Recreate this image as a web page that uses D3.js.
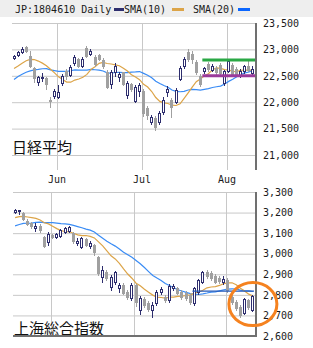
<!DOCTYPE html>
<html>
<head>
<meta charset="utf-8">
<script src="https://cdnjs.cloudflare.com/ajax/libs/d3/7.8.5/d3.min.js"></script>
<style>
  body { margin: 0; background: #fff; }
  text { font-family: 'DejaVu Sans Mono', monospace; font-size: 10px; fill: #1a1a1a; }
  text.title { font-family: 'Noto Sans CJK JP', sans-serif; font-size: 15px; fill: #111; }
</style>
</head>
<body>
<svg id="chart" width="313" height="348"></svg>
<script>
// daily candles, [open, high, low, close]
const nikkeiOhlc = [
  [22832, 22889, 22813, 22870], [22889, 22966, 22870, 22947], [22947, 23042, 22928, 23004],
  [23042, 23061, 22960, 22966], [22870, 22966, 22660, 22680], [22641, 22660, 22374, 22451],
  [22374, 22489, 22317, 22470], [22460, 22546, 22393, 22475], [22451, 22470, 22241, 22336],
  [22050, 22107, 21916, 22031], [22126, 22241, 22088, 22203], [22107, 22317, 22088, 22184],
  [22355, 22527, 22317, 22489], [22584, 22622, 22432, 22489], [22508, 22699, 22489, 22660],
  [22737, 22889, 22699, 22851], [22813, 22832, 22675, 22680], [22680, 22851, 22660, 22813],
  [23023, 23061, 22851, 22870], [22909, 23004, 22889, 22966], [22851, 22889, 22680, 22718],
  [22889, 22909, 22794, 22813], [22794, 22832, 22641, 22680], [22565, 22603, 22260, 22279],
  [22336, 22603, 22260, 22565], [22565, 22737, 22489, 22680], [22470, 22565, 22393, 22527],
  [22565, 22570, 22317, 22336], [22145, 22393, 22088, 22355], [22336, 22355, 22203, 22241],
  [22031, 22317, 22012, 22279], [22203, 22355, 22126, 22317], [22203, 22241, 21745, 21802],
  [21897, 21935, 21687, 21764], [21630, 21764, 21592, 21726], [21707, 21745, 21478, 21535],
  [21630, 21840, 21592, 21802], [21821, 22107, 21783, 22050], [22184, 22298, 22126, 22241],
  [22050, 22088, 21726, 21916], [22012, 22260, 21993, 22222], [22432, 22680, 22412, 22641],
  [22680, 22851, 22641, 22813], [22947, 23004, 22775, 22813], [22909, 22966, 22737, 22813],
  [22756, 22794, 22527, 22565], [22489, 22527, 22298, 22336], [22584, 22660, 22546, 22641],
  [22718, 22756, 22584, 22622], [22603, 22718, 22584, 22680], [22641, 22680, 22527, 22565],
  [22699, 22737, 22527, 22546], [22355, 22603, 22317, 22584], [22584, 22813, 22565, 22775],
  [22699, 22737, 22508, 22527], [22622, 22660, 22508, 22527], [22508, 22622, 22470, 22584],
  [22584, 22699, 22546, 22680], [22680, 22813, 22584, 22603], [22546, 22680, 22508, 22622]
]
// closes before the first visible day, needed for the moving averages
const nikkeiPrev = [21847, 22158, 22191, 22162, 22088, 22278, 22215, 22319, 22467, 22508,
  22473, 22467, 22509, 22409, 22497, 22758, 22866, 22818, 22717]

const shanghaiOhlc = [
  [3203, 3217, 3198, 3212], [3208, 3213, 3193, 3212], [3198, 3203, 3164, 3169],
  [3159, 3169, 3140, 3144], [3149, 3154, 3125, 3135], [3125, 3149, 3110, 3135],
  [3135, 3144, 3106, 3115], [3081, 3086, 3035, 3037], [3057, 3106, 3042, 3096],
  [3091, 3096, 3076, 3081], [3081, 3101, 3076, 3096], [3086, 3120, 3081, 3115],
  [3106, 3130, 3101, 3125], [3110, 3135, 3106, 3130], [3101, 3106, 3052, 3062],
  [3052, 3076, 3042, 3062], [3033, 3081, 3028, 3076], [3071, 3076, 3037, 3042],
  [3037, 3062, 3028, 3052], [3042, 3047, 2994, 3008], [2984, 2989, 2896, 2906],
  [2887, 2940, 2862, 2921], [2911, 2921, 2872, 2882], [2838, 2896, 2824, 2887],
  [2862, 2916, 2853, 2911], [2833, 2858, 2814, 2848], [2848, 2858, 2804, 2809],
  [2814, 2824, 2780, 2789], [2785, 2858, 2775, 2848], [2848, 2853, 2746, 2765],
  [2726, 2794, 2707, 2785], [2780, 2789, 2741, 2751], [2760, 2770, 2721, 2731],
  [2726, 2765, 2692, 2751], [2760, 2824, 2751, 2814], [2814, 2838, 2804, 2828],
  [2789, 2799, 2765, 2775], [2775, 2853, 2765, 2843], [2833, 2853, 2824, 2843],
  [2833, 2838, 2804, 2809], [2814, 2824, 2780, 2789], [2809, 2819, 2775, 2785],
  [2799, 2809, 2755, 2765], [2760, 2838, 2751, 2833], [2814, 2877, 2804, 2872],
  [2862, 2916, 2858, 2911], [2911, 2921, 2882, 2892], [2906, 2916, 2872, 2882],
  [2892, 2901, 2858, 2862], [2882, 2892, 2858, 2867], [2862, 2892, 2853, 2877],
  [2872, 2882, 2814, 2824], [2789, 2804, 2755, 2765], [2765, 2775, 2726, 2736],
  [2741, 2751, 2692, 2702], [2712, 2785, 2707, 2780], [2775, 2780, 2731, 2741],
  [2726, 2799, 2721, 2794]
]
const shanghaiPrev = [3071, 3068, 3128, 3117, 3075, 3082, 3081, 3101, 3091, 3136,
  3161, 3159, 3174, 3163, 3174, 3192, 3170, 3155, 3193]

const monthLabels = ['Jun', 'Jul', 'Aug']
const nikkeiMonthStart = [11, 32, 53]
const shanghaiMonthStart = [9, 29, 51]
const nikkeiTicks = [21000, 21500, 22000, 22500, 23000, 23500]
const shanghaiTicks = [2600, 2700, 2800, 2900, 3000, 3100, 3200, 3300]

// hand drawn levels on the nikkei panel
const resistance = 22800
const support = 22500
const levelFrom = 47
// flat line on the shanghai panel and the circled area
const shanghaiLevel = 2818
const shanghaiLevelFrom = 43
const circleAt = { index: 57, value: 2755 }

const navy = '#2e2e6e'
const gray = '#a0a0a0'
const sma10Color = '#dca448'
const sma20Color = '#3a8cf5'

const svg = d3.select('#chart')

const sma = (data, prev, n) => {
  const closes = prev.concat(data.map(d => d[3]))
  return data.map((d, i) => d3.mean(closes.slice(i + prev.length - n + 1, i + prev.length + 1)))
}

function drawPanel(p) {
  const { data, prev, x, y, ticks, months, bottom, title, titleX, titleY } = p
  const [x0, x1] = x.range()
  const yt = y.range()[1]
  const bw = x.bandwidth()
  const cx = i => Math.round(x(i) + bw / 2 - 1.5)
  const g = svg.append('g')

  g.append('g')
    .attr('transform', `translate(${x0},0)`)
    .call(d3.axisLeft(y).tickValues(ticks).tickSize(-(x1 - x0)).tickFormat(''))
    .call(a => a.select('.domain').remove())
    .selectAll('line').attr('stroke', '#c8c8c8')

  g.selectAll('.vgrid')
    .data(months)
    .enter().append('line')
    .attr('x1', d => Math.round(x(d)) + 0.5)
    .attr('x2', d => Math.round(x(d)) + 0.5)
    .attr('y1', yt)
    .attr('y2', bottom)
    .attr('stroke', '#c8c8c8')

  g.append('text')
    .attr('class', 'title')
    .attr('x', titleX)
    .attr('y', titleY)
    .text(title)

  const line = d3.line().x((d, i) => x(i) + bw / 2).y(d => y(d))
  g.append('path').datum(sma(data, prev, 20))
    .attr('d', line).attr('fill', 'none').attr('stroke', sma20Color).attr('stroke-width', 1.2)
  g.append('path').datum(sma(data, prev, 10))
    .attr('d', line).attr('fill', 'none').attr('stroke', sma10Color).attr('stroke-width', 1.2)

  g.selectAll('.wick')
    .data(data)
    .enter().append('line')
    .attr('x1', (d, i) => cx(i) + 1.5)
    .attr('x2', (d, i) => cx(i) + 1.5)
    .attr('y1', d => Math.round(y(d[1])))
    .attr('y2', d => Math.round(y(d[2])) + 1)
    .attr('stroke', d => d[3] >= d[0] ? navy : gray)

  g.selectAll('.up')
    .data(data.map((d, i) => ({ d, i })).filter(e => e.d[3] >= e.d[0]))
    .enter().append('rect')
    .attr('x', e => cx(e.i) + 0.5)
    .attr('y', e => Math.round(y(e.d[3])) + 0.5)
    .attr('width', 2)
    .attr('height', e => Math.max(1, Math.round(y(e.d[0])) - Math.round(y(e.d[3]))))
    .attr('fill', '#fff')
    .attr('stroke', navy)

  g.selectAll('.down')
    .data(data.map((d, i) => ({ d, i })).filter(e => e.d[3] < e.d[0]))
    .enter().append('rect')
    .attr('x', e => cx(e.i))
    .attr('y', e => Math.round(y(e.d[0])))
    .attr('width', 3)
    .attr('height', e => Math.max(1, Math.round(y(e.d[3])) - Math.round(y(e.d[0])) + 1))
    .attr('fill', gray)

  g.append('line')
    .attr('x1', 256).attr('x2', 256)
    .attr('y1', yt).attr('y2', bottom)
    .attr('stroke', '#707070').attr('stroke-width', 2)

  g.append('g')
    .attr('transform', 'translate(256,0)')
    .call(d3.axisRight(y).tickValues(ticks).tickSize(0).tickPadding(7).tickFormat(d3.format(',')))
    .call(a => a.select('.domain').remove())

  return g
}

// header
svg.append('rect').attr('width', 313).attr('height', 17).attr('fill', '#eeeeee')
svg.append('text').attr('x', 15).attr('y', 13).text('JP:1804610 Daily')
svg.append('rect').attr('x', 114).attr('y', 8).attr('width', 10).attr('height', 3).attr('fill', navy)
svg.append('text').attr('x', 124).attr('y', 13).text('SMA(10)')
svg.append('rect').attr('x', 172).attr('y', 8).attr('width', 12).attr('height', 3).attr('fill', sma10Color)
svg.append('text').attr('x', 193).attr('y', 13).text('SMA(20)')
svg.append('rect').attr('x', 238).attr('y', 8).attr('width', 12).attr('height', 3).attr('fill', '#0a66ff')

const xTop = d3.scaleBand().domain(d3.range(nikkeiOhlc.length)).range([12, 255])
const yTop = d3.scaleLinear().domain([21000, 23500]).range([155, 23])
const topPanel = drawPanel({
  data: nikkeiOhlc, prev: nikkeiPrev, x: xTop, y: yTop, ticks: nikkeiTicks,
  months: nikkeiMonthStart, bottom: 170, title: '日経平均', titleX: 12, titleY: 153
})

topPanel.selectAll('.level')
  .data([[resistance, '#2aa845'], [support, '#9b3b9b']])
  .enter().append('line')
  .attr('x1', xTop(levelFrom))
  .attr('x2', 255)
  .attr('y1', d => yTop(d[0]))
  .attr('y2', d => yTop(d[0]))
  .attr('stroke', d => d[1])
  .attr('stroke-width', 3)

svg.selectAll('.month')
  .data(monthLabels)
  .enter().append('text')
  .attr('x', (d, i) => Math.round(xTop(nikkeiMonthStart[i])))
  .attr('y', 183)
  .attr('text-anchor', 'middle')
  .text(d => d)

const xBot = d3.scaleBand().domain(d3.range(shanghaiOhlc.length)).range([13, 255])
const yBot = d3.scaleLinear().domain([2600, 3300]).range([336, 192])
const bottomPanel = drawPanel({
  data: shanghaiOhlc, prev: shanghaiPrev, x: xBot, y: yBot, ticks: shanghaiTicks,
  months: shanghaiMonthStart, bottom: 337, title: '上海総合指数', titleX: 14, titleY: 334
})

bottomPanel.append('line')
  .attr('x1', xBot(shanghaiLevelFrom))
  .attr('x2', 254)
  .attr('y1', yBot(shanghaiLevel))
  .attr('y2', yBot(shanghaiLevel))
  .attr('stroke', '#2458b8')
  .attr('stroke-width', 1.3)

bottomPanel.append('line')
  .attr('x1', 13).attr('x2', 257)
  .attr('y1', 336).attr('y2', 336)
  .attr('stroke', '#707070').attr('stroke-width', 2)

svg.append('ellipse')
  .attr('cx', xBot(circleAt.index) + xBot.bandwidth() / 2)
  .attr('cy', yBot(circleAt.value))
  .attr('rx', 24)
  .attr('ry', 21.5)
  .attr('fill', 'none')
  .attr('stroke', '#f5821f')
  .attr('stroke-width', 3)
</script>
</body>
</html>
